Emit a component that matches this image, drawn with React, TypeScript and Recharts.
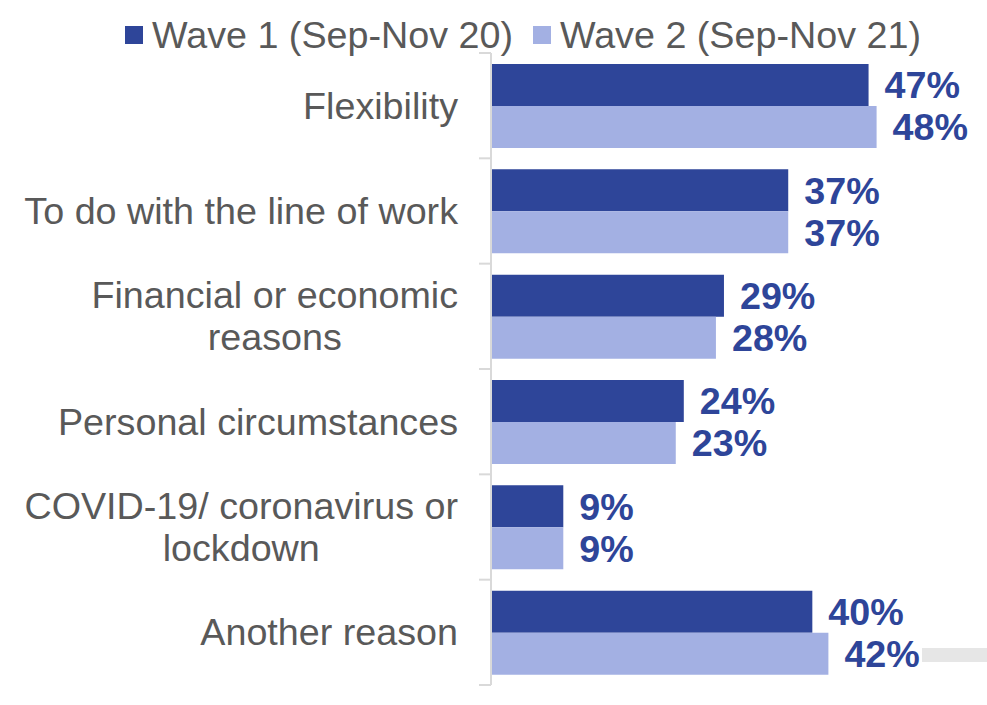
import React from 'react';
import { BarChart, Bar, XAxis, YAxis, LabelList } from 'recharts';

const categories = [
  'Flexibility',
  'To do with the line of work',
  'Financial or economic\nreasons',
  'Personal circumstances',
  'COVID-19/ coronavirus or\nlockdown',
  'Another reason',
];
const wave1 = [47, 37, 29, 24, 9, 40];
const wave2 = [48, 37, 28, 23, 9, 42];
const seriesNames = ['Wave 1 (Sep-Nov 20)', 'Wave 2 (Sep-Nov 21)'];

const DARK = '#2E4599';
const LIGHT = '#A3B0E3';
const FONT = '"Liberation Sans", Arial, sans-serif';
const FS = 37.7;

const W = 987;
const H = 705;
const MARGIN = { top: 53, right: 14, bottom: 20, left: 0 };
const BAND = (H - MARGIN.top - MARGIN.bottom) / categories.length;
const TICK_SIZE = 12;
const TICK_MARGIN = 21;

const data = categories.map((c, i) => ({ name: c, w1: wave1[i], w2: wave2[i] }));

let ctx: CanvasRenderingContext2D | null = null;
const measure = (s: string) => {
  if (!ctx) {
    const c = document.createElement('canvas');
    ctx = c.getContext('2d');
  }
  if (!ctx) return s.length * 18;
  ctx.font = `${FS}px "Liberation Sans", Arial, sans-serif`;
  return ctx.measureText(s).width;
};

const CategoryTick = (props: any) => {
  const { x, y, payload, index } = props;
  const axisX = x + TICK_SIZE + TICK_MARGIN;
  const lines = String(payload.value).split('\n');
  const lh = 42;
  const start = y - ((lines.length - 1) * lh) / 2;
  const maxW = Math.max(...lines.map(measure));
  const multi = lines.length > 1;
  const tx = multi ? x - maxW / 2 : x;
  return (
    <g>
      <line x1={axisX - TICK_SIZE} x2={axisX} y1={y + BAND / 2} y2={y + BAND / 2} stroke="#D9D9D9" strokeWidth={2} />
      {index === 0 && (
        <line x1={axisX - TICK_SIZE} x2={axisX} y1={y - BAND / 2} y2={y - BAND / 2} stroke="#D9D9D9" strokeWidth={2} />
      )}
      {lines.map((l, i) => (
        <text
          key={i}
          x={tx}
          y={start + i * lh}
          textAnchor={multi ? 'middle' : 'end'}
          dominantBaseline="central"
          fill="#595959"
          fontSize={FS}
          fontFamily={FONT}
        >
          {l}
        </text>
      ))}
    </g>
  );
};

const LegendBlock = () => (
  <div
    style={{
      position: 'absolute',
      left: 125,
      top: 15,
      display: 'flex',
      alignItems: 'center',
      fontFamily: FONT,
      fontSize: FS,
      color: '#595959',
      lineHeight: '40px',
      whiteSpace: 'nowrap',
    }}
  >
    {seriesNames.map((n, i) => (
      <div key={n} style={{ display: 'flex', alignItems: 'center', marginRight: i === 0 ? 20 : 0 }}>
        <span style={{ display: 'inline-block', width: 18, height: 18, background: i === 0 ? DARK : LIGHT, marginRight: 9 }} />
        <span>{n}</span>
      </div>
    ))}
  </div>
);

const fmt = (v: any) => `${v}%`;

export default function App() {
  return (
    <div style={{ position: 'absolute', left: 0, top: 0, width: W, height: H, background: '#fff' }}>
      <BarChart width={W} height={H} data={data} layout="vertical" margin={MARGIN} barGap={0}>
        <XAxis type="number" domain={[0, 60]} hide />
        <YAxis
          type="category"
          dataKey="name"
          width={491}
          axisLine={{ stroke: '#D9D9D9', strokeWidth: 2 }}
          tickLine={false}
          tickSize={TICK_SIZE}
          tickMargin={TICK_MARGIN}
          tick={<CategoryTick />}
          interval={0}
        />
        <Bar dataKey="w1" name={seriesNames[0]} fill={DARK} barSize={42} isAnimationActive={false}>
          <LabelList dataKey="w1" position="right" offset={16} formatter={fmt} fill={DARK} fontSize={FS} fontWeight="bold" fontFamily={FONT} />
        </Bar>
        <Bar dataKey="w2" name={seriesNames[1]} fill={LIGHT} barSize={42} isAnimationActive={false}>
          <LabelList dataKey="w2" position="right" offset={16} formatter={fmt} fill={DARK} fontSize={FS} fontWeight="bold" fontFamily={FONT} />
        </Bar>
      </BarChart>
      <LegendBlock />
      <div style={{ position: 'absolute', left: 922, top: 648, width: 65, height: 14, background: '#E6E6E6' }} />
    </div>
  );
}
